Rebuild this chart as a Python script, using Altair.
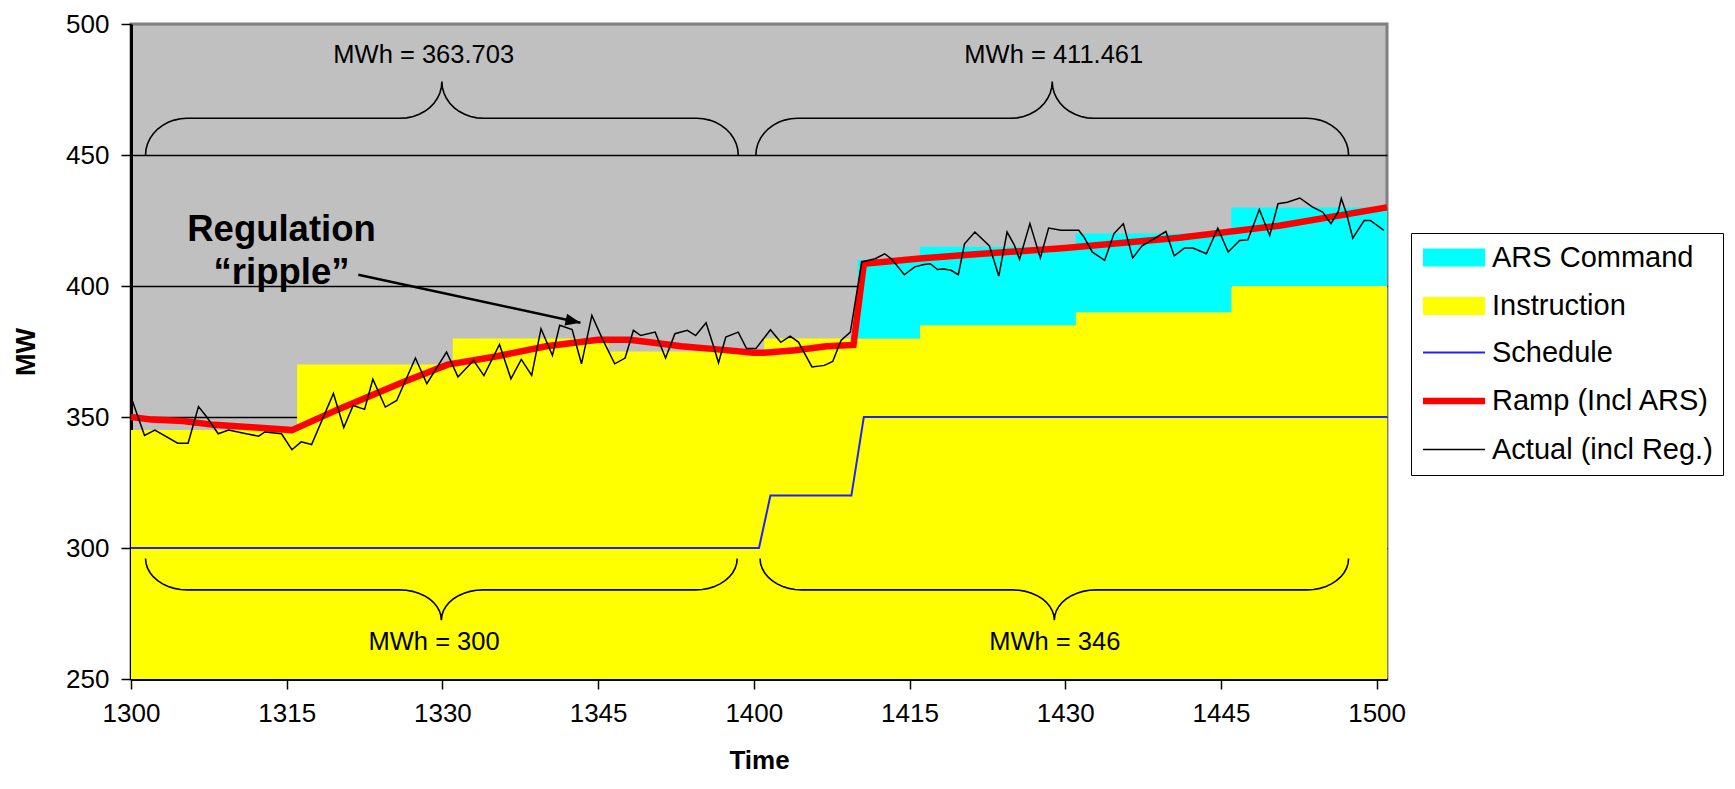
import math
import altair as alt
import pandas as pd

# ---------------- data (x = minutes after 13:00) ----------------
area_names = ["ARS Command", "Instruction"]
area_colors = ["#00FFFF", "#FFFF00"]
line_names = ["Schedule", "Ramp (Incl ARS)", "Actual (incl Reg.)"]
line_colors = ["#2222FF", "#FF0000", "#000000"]
line_widths = [2, 6.5, 1.5]

instr_t = [0, 16, 31, 46, 61, 76, 91, 106, 121]
instr_mw = [345, 370, 380, 375, 380, 385, 390, 400, 400]

ars_t = [70, 76, 91, 106, 121]
ars_mw = [30, 30, 30, 30, 30]

sched_t = [0, 60.5, 61.6, 69.4, 70.6, 121]
sched_mw = [300, 300, 320, 320, 350, 350]

ramp_t = [0, 2, 5, 8, 12, 15.5, 20, 26, 30.5, 35, 40, 45, 48, 50, 53, 56, 60, 61,
          64, 67, 69.6, 70.6, 76, 81, 90, 101, 110.6, 121]
ramp_mw = [350, 349, 348.5, 347, 346, 345, 353, 363, 370, 373, 377, 379.5, 379.5, 378.5,
           377, 376, 374.5, 374.5, 375.5, 377, 377.5, 408.5, 410.5, 412, 414.5, 418.4, 423, 430]

actual_t = [0, 1.3, 2.3, 4.5, 5.5, 6.5, 7.3, 8.4, 9.4, 11.1, 12.3, 12.9, 14.5, 15.5, 16.4,
            17.4, 19.5, 20.5, 21.4, 22.5, 23.3, 24.5, 25.6, 27.4, 28.5, 30.4, 31.5, 33, 34,
            35.5, 36.6, 37.6, 38.6, 39.5, 40.6, 41.3, 42.5, 43.4, 44.4, 45.4, 46.6, 47.6,
            48.4, 49.1, 50.5, 51.5, 52.4, 53.6, 54.4, 55.4, 56.1, 56.6, 57.3, 58.5, 59.3,
            60.2, 61.6, 62.6, 63.5, 64.3, 65.6, 66.8, 67.6, 68.4, 69.3, 70.4, 71.7, 72.6,
            73.3, 74.5, 75.5, 76.4, 77.0, 77.7, 78.3, 79.0, 79.7, 80.3, 81.3, 82.7, 83.6,
            84.4, 85.1, 85.6, 86.6, 87.6, 88.4, 89.6, 91.3, 91.8, 92.6, 93.8, 94.7, 95.6,
            96.5, 97.4, 98.3, 99.7, 100.5, 101.5, 102.3, 103.6, 104.7, 105.7, 106.8, 107.6,
            108.7, 109.7, 110.5, 111.4, 112.6, 113.8, 114.8, 115.6, 116.3, 116.6, 117.1,
            117.7, 118.8, 119.4, 120.7]
actual_mw = [357.6, 343, 345, 340, 340, 354, 350, 343.6, 345, 343.6, 342.7, 344.3, 343.6,
             337.5, 340.5, 339.5, 359, 346, 354.4, 352.9, 364.4, 353.8, 356.3, 372.5, 362.7,
             374.8, 365.3, 371.6, 365.8, 377.7, 364.6, 372, 365.9, 383.7, 373.5, 385, 383.4,
             370.3, 388.8, 379.9, 370.3, 372.5, 383.1, 381.1, 382.4, 372.5, 381.8, 383.1,
             381.1, 386, 377.3, 370.7, 380.5, 382.4, 376.1, 376.1, 383.3, 378.5, 380.9,
             378.6, 369.1, 369.7, 371.2, 379.2, 382.4, 409.2, 410.4, 412.3, 410.2, 404.3,
             407.3, 408.2, 408.5, 406.3, 406.5, 406, 404.3, 416.1, 420.6, 415.3, 403.8,
             420.6, 415.6, 410.2, 423.8, 410.7, 422.1, 421.3, 421.3, 418.7, 413, 409.8, 420,
             423.8, 410.7, 415.3, 417.4, 420.8, 411.5, 414.5, 414.5, 412.3, 422.1, 413,
             417.4, 417.6, 429.2, 419.3, 431.4, 432, 433.6, 430.2, 428.2, 423.8, 428.4,
             433.4, 427.6, 418.3, 425, 425, 421.2]

# brace annotations
brace_start = [1.4, 60.2, 1.4, 60.6]
brace_end = [58.5, 117.3, 58.4, 117.3]
brace_base = [450, 450, 296, 296]
brace_flat = [464, 464, 284, 284]
brace_tip = [478, 478, 272.5, 272.5]
brace_text = ["MWh = 363.703", "MWh = 411.461", "MWh = 300", "MWh = 346"]
brace_text_t = [28.2, 88.9, 29.2, 89.0]
brace_text_mw = [488, 488, 264, 264]

arrow_t = [21.9, 43.3]
arrow_mw = [404.3, 386.0]
note_text = "Regulation\n\u201cripple\u201d"
note_t = 14.5
note_mw = 417.2

X_MAX = 121
Y_MIN, Y_MAX = 250, 500
W, H = 1256, 655
FONT = "Liberation Sans"

# ---------------- tables ----------------
def instr_at(t):
    v = instr_mw[0]
    for tt, vv in zip(instr_t, instr_mw):
        if t >= tt:
            v = vv
    return v

instr_df = pd.DataFrame({"t": instr_t, "mw": instr_mw, "series": area_names[1]})
ars_base = [instr_at(t) for t in ars_t]
ars_df = pd.DataFrame({"t": ars_t, "lo": ars_base,
                       "hi": [b + a for b, a in zip(ars_base, ars_mw)],
                       "series": area_names[0]})
sched_df = pd.DataFrame({"t": sched_t, "mw": sched_mw, "series": line_names[0]})
ramp_df = pd.DataFrame({"t": ramp_t, "mw": ramp_mw, "series": line_names[1]})
actual_df = pd.DataFrame({"t": actual_t, "mw": actual_mw, "series": line_names[2]})


def brace_rows(i, t0, t1, base, flat, tip, a=4.0, n=10):
    tc = (t0 + t1) / 2
    pts = []
    for k in range(n + 1):  # left end curve (vertical -> horizontal)
        th = k / n * math.pi / 2
        pts.append((t0 + a - a * math.cos(th), base + (flat - base) * math.sin(th)))
    for k in range(n + 1):  # left half of the central cusp (horizontal -> vertical)
        th = k / n * math.pi / 2
        pts.append((tc - a + a * math.sin(th), tip - (tip - flat) * math.cos(th)))
    for k in range(n + 1):  # right half of the central cusp (vertical -> horizontal)
        ph = k / n * math.pi / 2
        pts.append((tc + a - a * math.cos(ph), tip - (tip - flat) * math.sin(ph)))
    for k in range(n + 1):  # right end curve (horizontal -> vertical)
        th = k / n * math.pi / 2
        pts.append((t1 - a + a * math.sin(th), base + (flat - base) * math.cos(th)))
    return [{"b": i, "o": j, "t": p[0], "mw": p[1]} for j, p in enumerate(pts)]


brace_list = []
for i in range(4):
    brace_list += brace_rows(i, brace_start[i], brace_end[i], brace_base[i],
                             brace_flat[i], brace_tip[i])
brace_df = pd.DataFrame(brace_list)
btext_df = pd.DataFrame({"t": brace_text_t, "mw": brace_text_mw, "label": brace_text})
arrow_df = pd.DataFrame({"t": arrow_t, "mw": arrow_mw})
head_df = pd.DataFrame({"t": [arrow_t[1]], "mw": [arrow_mw[1]]})
note_df = pd.DataFrame({"t": [note_t], "mw": [note_mw], "label": [note_text]})

px_x = W / X_MAX
px_y = H / (Y_MAX - Y_MIN)
arrow_angle = math.degrees(math.atan2((arrow_mw[0] - arrow_mw[1]) * px_y,
                                      (arrow_t[1] - arrow_t[0]) * px_x))

# ---------------- encodings ----------------
x_scale = alt.Scale(domain=[0, X_MAX], nice=False, zero=False)
y_scale = alt.Scale(domain=[Y_MIN, Y_MAX], nice=False, zero=False)

x_axis = alt.Axis(values=list(range(0, 121, 15)),
                  labelExpr="format(1300 + floor(datum.value / 60) * 100 + datum.value % 60, 'd')",
                  title="Time", titleFont=FONT, titleFontSize=26, titleFontWeight="bold",
                  titleColor="black", titleX=628, titleY=81, titleBaseline="middle",
                  labelFont=FONT, labelFontSize=26, labelColor="black", labelPadding=11,
                  labelFlush=False, labelOverlap=False,
                  tickColor="black", tickSize=10, tickWidth=1.5,
                  domainColor="black", domainWidth=3, grid=False)
y_axis = alt.Axis(values=list(range(250, 501, 50)), title="MW", titleFont=FONT,
                  titleFontSize=27, titleFontWeight="bold", titleColor="black",
                  titleX=-105, titleY=327.5, titleBaseline="middle", titleAlign="center",
                  labelFont=FONT, labelFontSize=26, labelColor="black", labelPadding=12,
                  labelFlush=False, labelOverlap=False,
                  tickColor="black", tickSize=10, tickWidth=1.5,
                  domainColor="black", domainWidth=3, grid=True,
                  gridColor=alt.condition("datum.value == 500", alt.value("#808080"),
                                          alt.value("black")),
                  gridWidth=1.3)

X = alt.X("t:Q", scale=x_scale, axis=x_axis)
Y = alt.Y("mw:Q", scale=y_scale, axis=y_axis)
Xn = alt.X("t:Q", scale=x_scale)
Yn = alt.Y("mw:Q", scale=y_scale)

# legend for the two filled series (top part of the legend box, no border)
fill_legend = alt.Legend(
    title=None, orient="none", legendX=1280, legendY=209, direction="vertical",
    symbolSize=121, symbolType="M-5.64,-1.64H5.64V1.64H-5.64Z", symbolOffset=18.5,
    symbolStrokeWidth=0, symbolStrokeColor="transparent", symbolOpacity=1,
    labelFont=FONT, labelFontSize=29, labelColor="black", labelOffset=23.5,
    rowPadding=18.5, padding=10, labelLimit=500)
# legend for the three line series; its blank title reserves room for the two rows above,
# so that its border encloses all five entries
line_legend = alt.Legend(
    title=" ", titleFontSize=76, titlePadding=19, titleLimit=500,
    orient="none", legendX=1280, legendY=209, direction="vertical",
    symbolSize=121, symbolType="M-5.64,0H5.64", symbolOffset=18.5,
    symbolFillColor="transparent", symbolOpacity=1,
    labelFont=FONT, labelFontSize=29, labelColor="black", labelOffset=23.5,
    rowPadding=18.5, padding=10, labelLimit=500, strokeColor="black")

fill = alt.Fill("series:N", scale=alt.Scale(domain=area_names, range=area_colors),
                legend=fill_legend)
stroke = alt.Stroke("series:N", scale=alt.Scale(domain=line_names, range=line_colors),
                    legend=line_legend)
swidth = alt.StrokeWidth("series:N", scale=alt.Scale(type="ordinal", domain=line_names,
                                                     range=line_widths), legend=line_legend)

instr_layer = alt.Chart(instr_df).mark_area(interpolate="step-after", opacity=1).encode(
    x=X, y=Y, y2=alt.datum(Y_MIN), fill=fill)
ars_layer = alt.Chart(ars_df).mark_area(interpolate="step-after", opacity=1).encode(
    x=Xn, y=alt.Y("hi:Q", scale=y_scale), y2="lo:Q", fill=fill)
sched_layer = alt.Chart(sched_df).mark_line().encode(x=Xn, y=Yn, stroke=stroke, strokeWidth=swidth)
ramp_layer = alt.Chart(ramp_df).mark_line().encode(x=Xn, y=Yn, stroke=stroke, strokeWidth=swidth)
actual_layer = alt.Chart(actual_df).mark_line().encode(x=Xn, y=Yn, stroke=stroke, strokeWidth=swidth)

brace_layer = alt.Chart(brace_df).mark_line(color="black", strokeWidth=1.6).encode(
    x=Xn, y=Yn, detail="b:N", order="o:Q")
btext_layer = alt.Chart(btext_df).mark_text(font=FONT, fontSize=25.5, color="black",
                                            baseline="middle").encode(x=Xn, y=Yn, text="label:N")
arrow_layer = alt.Chart(arrow_df).mark_line(color="black", strokeWidth=2.5).encode(x=Xn, y=Yn)
head_layer = alt.Chart(head_df).mark_point(shape="M0,0L-1,-0.4L-1,0.4Z", size=900, filled=True,
                                           color="black", opacity=1,
                                           angle=round(arrow_angle, 2)).encode(x=Xn, y=Yn)
note_layer = alt.Chart(note_df).mark_text(font=FONT, fontSize=36.5, fontWeight="bold",
                                          color="black", lineBreak="\n", lineHeight=43,
                                          align="center", baseline="alphabetic").encode(
    x=Xn, y=Yn, text="label:N")

chart = alt.layer(instr_layer, ars_layer, sched_layer, ramp_layer, actual_layer,
                  brace_layer, btext_layer, arrow_layer, head_layer, note_layer).properties(
    width=W, height=H,
    autosize=alt.AutoSizeParams(type="none"),
    padding={"left": 123, "top": 16, "right": 340, "bottom": 98},
).configure_view(fill="#C0C0C0", stroke="#808080", strokeWidth=3)

chart.save("out.html", embed_options={"renderer": "svg", "actions": False})
